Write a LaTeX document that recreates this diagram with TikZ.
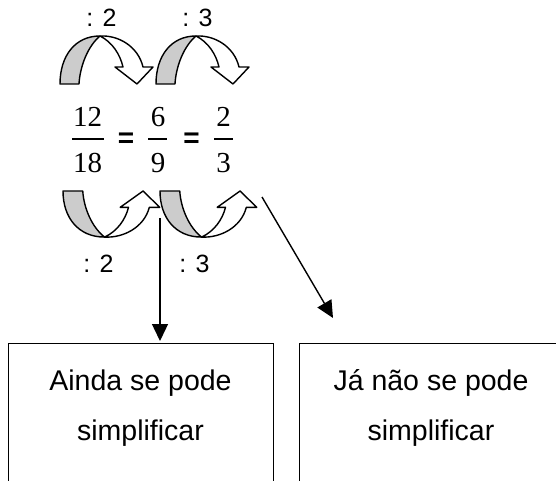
\documentclass[tikz,border=0pt]{standalone}
\usepackage{fontspec}
\setmainfont{Liberation Serif}
\newfontfamily\arialf{Liberation Sans}
\usetikzlibrary{arrows.meta}
\newcommand\crvarrowshape{%
  \path[whitefill] (40,-48) .. controls (58,-49) and (78,-38) .. (83,-17) -- (93,-17) -- (77,0) -- (55,-17) -- (63,-17) .. controls (60,-30) and (52,-42) .. (40,-48) -- cycle;
  \path[grayfill] (0,0) -- (19,0) .. controls (20,-18) and (28,-38) .. (40,-48) .. controls (15,-48) and (0,-28) .. (0,0) -- cycle;
}
\begin{document}
\begin{tikzpicture}[x=1pt,y=-1pt,
  outl/.style={draw=black,line width=1.4pt,line join=round},
  grayfill/.style={outl,fill=black!20},
  whitefill/.style={outl,fill=white},
  num/.style={font=\fontsize{29}{29}\selectfont,anchor=base,inner sep=0pt},
  eqs/.style={font=\arialf\bfseries\fontsize{28}{28}\selectfont,anchor=base,inner sep=0pt},
  lbl/.style={font=\arialf\fontsize{25}{25}\selectfont,anchor=base,inner sep=0pt},
  boxtxt/.style={font=\arialf\fontsize{28.5}{28.5}\selectfont,anchor=base,inner sep=0pt},
  boxst/.style={draw,line width=1.4pt,minimum width=265pt,minimum height=150pt,anchor=north west,inner sep=0pt},
  conn/.style={line width=1.4pt,-{Triangle[length=17pt,width=16pt]}},
  fbar/.style={line width=1.3pt}
]
\path[use as bounding box] (0,0) rectangle (556,481);
\clip (0,0) rectangle (556,481);

% top curved arrows
\begin{scope}[shift={(60,84)}] \crvarrowshape \end{scope}
\begin{scope}[shift={(156,84)}] \crvarrowshape \end{scope}
% bottom curved arrows
\begin{scope}[shift={(63,191)},xscale=1.04,yscale=-0.96] \crvarrowshape \end{scope}
\begin{scope}[shift={(160,191)},xscale=1.04,yscale=-0.96] \crvarrowshape \end{scope}

% labels
\node[lbl] (t2) at (101.5,27) {: 2};
\node[lbl] (t3) at (197.5,27) {: 3};
\node[lbl] (b2) at (98.5,272) {: 2};
\node[lbl] (b3) at (194.5,272) {: 3};

% fractions
\node[num] (n1) at (87.5,127) {12};
\node[num] (d1) at (87.5,172) {18};
\draw[fbar] (72,139) -- (104,139);
\node[eqs] (e1) at (126,148) {=};
\node[num] (n2) at (158,127) {6};
\node[num] (d2) at (158,172) {9};
\draw[fbar] (148,139) -- (167,139);
\node[eqs] (e2) at (191.5,148) {=};
\node[num] (n3) at (223.5,127) {2};
\node[num] (d3) at (223.5,172) {3};
\draw[fbar] (214,139) -- (233,139);

% boxes
\node[boxst] (boxA) at (8,343) {};
\node[boxst] (boxB) at (299,343) {};
\node[boxtxt] (a1) at (140.5,390) {Ainda se pode};
\node[boxtxt] (a2) at (140.5,440) {simplificar};
\node[boxtxt] (c1) at (431,390) {Já não se pode};
\node[boxtxt] (c2) at (431,440) {simplificar};

% connectors
\coordinate (vstart) at (160,218);
\coordinate (vend) at (160,341);
\draw[conn] (vstart) -- (vend);
\coordinate (dstart) at (262,197);
\coordinate (dend) at (333,318);
\draw[conn] (dstart) -- (dend);
\end{tikzpicture}
\end{document}
